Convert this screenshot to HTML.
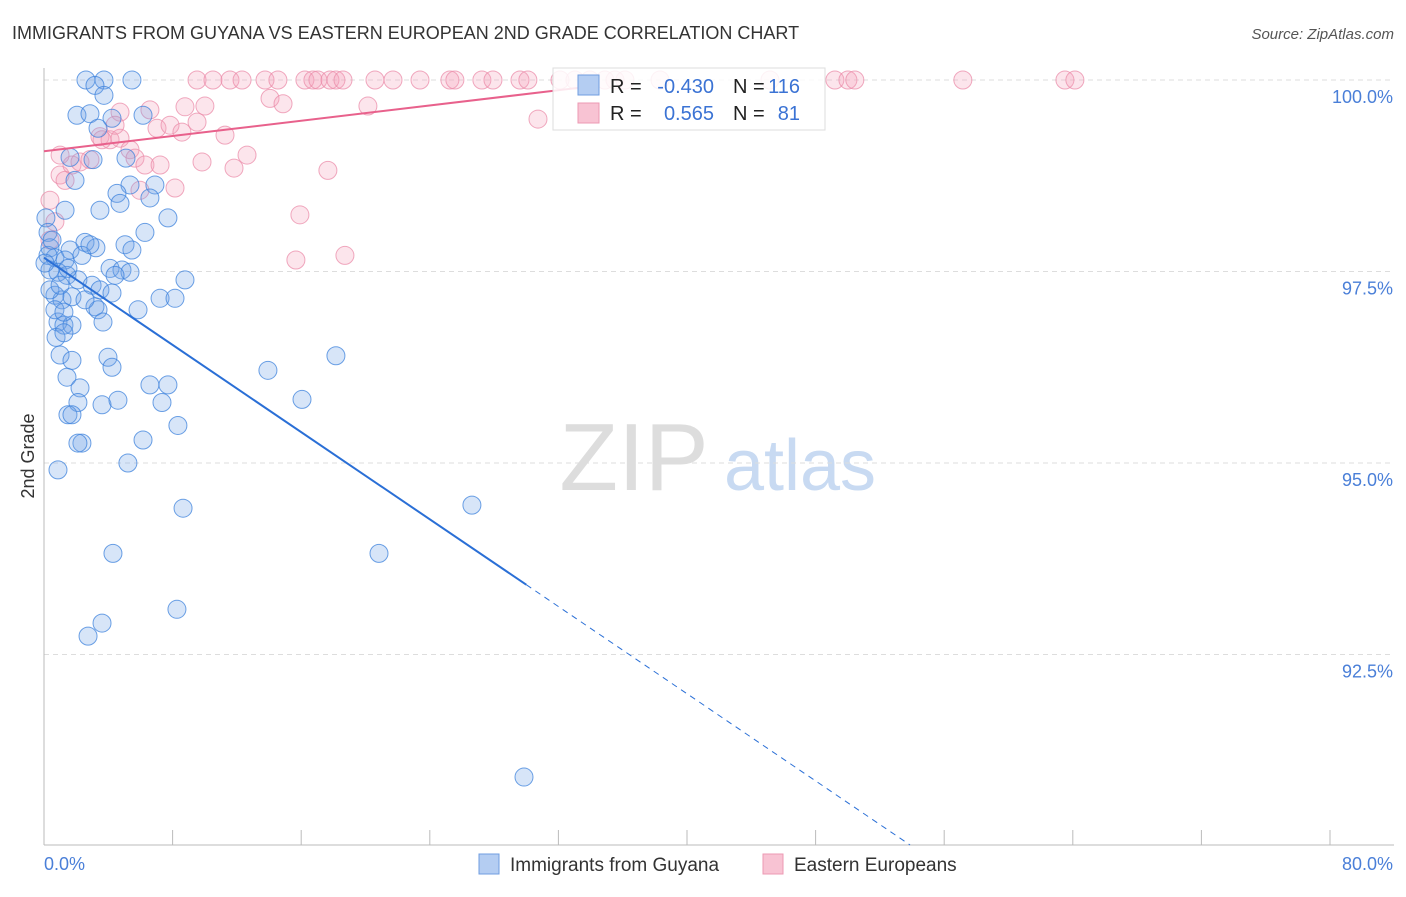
<!DOCTYPE html>
<html><head><meta charset="utf-8"><style>
body{margin:0;background:#fff;font-family:"Liberation Sans",sans-serif}
svg text{font-family:"Liberation Sans",sans-serif}
</style></head><body>
<svg id="chart" width="1406" height="892" xmlns="http://www.w3.org/2000/svg">
<text x="12" y="39" font-size="18" fill="#333">IMMIGRANTS FROM GUYANA VS EASTERN EUROPEAN 2ND GRADE CORRELATION CHART</text>
<text x="1394" y="39" font-size="15" fill="#555" font-style="italic" text-anchor="end">Source: ZipAtlas.com</text>
<text x="34" y="456" font-size="18" fill="#333" text-anchor="middle" transform="rotate(-90 34 456)">2nd Grade</text>
<g>
<text x="634" y="490" font-size="96" fill="#ddd" text-anchor="middle" font-family="Liberation Serif,serif">ZIP</text>
<text x="800" y="490" font-size="72" fill="#c8daf2" text-anchor="middle">atlas</text>
</g>
<g id="grid"></g><g id="axes"></g><g id="pink"></g><g id="blue"></g><g id="trends"></g>
<g>
<rect x="553" y="68" width="272" height="62" fill="#fff" fill-opacity="0.85" stroke="#ddd"/>
<rect x="578" y="75" width="21" height="20" fill="#b4cdf2" stroke="#6f9de0"/>
<rect x="578" y="103" width="21" height="20" fill="#f8c3d3" stroke="#ec9ab3"/>
<text x="610" y="93" font-size="20" fill="#222">R = </text><text x="714" y="93" font-size="20" fill="#3b73d4" text-anchor="end">-0.430</text>
<text x="733" y="93" font-size="20" fill="#222">N = </text><text x="800" y="93" font-size="20" fill="#3b73d4" text-anchor="end">116</text>
<text x="610" y="120" font-size="20" fill="#222">R = </text><text x="714" y="120" font-size="20" fill="#3b73d4" text-anchor="end">0.565</text>
<text x="733" y="120" font-size="20" fill="#222">N = </text><text x="800" y="120" font-size="20" fill="#3b73d4" text-anchor="end">81</text>
</g>
<g>
<rect x="479" y="854" width="20" height="20" fill="#b4cdf2" stroke="#6f9de0"/>
<text x="510" y="871" font-size="19" fill="#333">Immigrants from Guyana</text>
<rect x="763" y="854" width="20" height="20" fill="#f8c3d3" stroke="#ec9ab3"/>
<text x="794" y="871" font-size="19" fill="#333">Eastern Europeans</text>
</g>
</svg>
<script>
const blueX=[2.61,3.73,5.47,3.17,3.73,2.05,2.86,6.16,4.23,3.36,5.10,1.62,3.05,1.93,5.35,6.90,4.54,6.59,3.48,1.31,4.73,7.71,6.28,0.12,0.25,0.37,2.55,3.23,5.04,5.47,1.62,0.68,1.31,2.36,4.11,4.85,5.35,8.77,0.37,0.87,1.43,2.11,2.99,3.48,4.23,7.22,8.15,0.68,1.12,1.74,3.17,3.36,5.85,0.87,1.24,1.74,3.67,0.75,1.24,3.98,4.23,1.00,1.74,1.43,13.93,18.16,2.24,6.59,7.71,2.11,3.61,4.60,7.34,16.05,1.49,1.74,8.33,2.36,2.11,6.16,0.87,5.22,8.65,26.62,4.29,20.84,8.27,3.61,2.74,29.86,0.37,0.25,0.50,1.00,0.06,0.68,1.24,2.55,2.86,4.42,1.49];
const blueY=[100,100,100,99.93,99.80,99.54,99.56,99.54,99.50,99.37,98.98,98.99,98.96,98.69,98.63,98.63,98.52,98.46,98.30,98.30,98.39,98.20,98.01,98.20,98.01,97.81,97.88,97.81,97.85,97.78,97.78,97.68,97.65,97.71,97.54,97.52,97.49,97.39,97.52,97.49,97.45,97.39,97.32,97.26,97.22,97.15,97.15,97.19,97.13,97.17,97.04,97.00,97.00,96.84,96.80,96.80,96.84,96.64,96.70,96.38,96.25,96.41,96.34,96.12,96.21,96.40,95.98,96.02,96.02,95.79,95.76,95.82,95.79,95.83,95.63,95.63,95.49,95.26,95.26,95.30,94.91,95.00,94.41,94.45,93.82,93.82,93.09,92.91,92.74,90.90,97.26,97.71,97.91,97.32,97.61,97.00,96.97,97.13,97.85,97.45,97.54];
const pinkX=[9.52,10.51,11.57,12.32,13.75,14.55,16.23,16.73,17.04,17.79,18.16,18.60,20.59,21.71,23.39,25.25,25.56,27.24,27.93,29.61,30.10,32.10,33.03,33.96,34.89,35.52,36.14,38.32,45.16,49.20,50.01,50.44,57.16,63.51,64.13,4.73,6.59,8.77,10.01,14.06,14.87,20.15,30.73,3.48,4.11,4.73,7.03,7.84,9.52,11.26,1.00,1.74,2.24,2.86,5.35,5.66,6.28,7.22,8.15,9.83,11.82,12.63,0.37,0.68,0.37,15.92,17.66,15.67,18.72,3.61,4.42,8.58,5.97,1.00,1.31];
const pinkY=[100,100,100,100,100,100,100,100,100,100,100,100,100,100,100,100,100,100,100,100,100,100,100,100,100,100,100,100,100,100,100,100,100,100,100,99.58,99.61,99.65,99.66,99.76,99.69,99.66,99.49,99.26,99.22,99.24,99.37,99.41,99.45,99.28,98.76,98.89,98.93,98.96,99.09,98.98,98.89,98.89,98.59,98.93,98.85,99.02,98.43,98.15,97.91,98.24,98.82,97.65,97.71,99.22,99.41,99.32,98.56,99.02,98.69];
const blueTrend=[97.68,-0.1423]; // intercept, slope
const pinkTrend=[99.07,0.0249];
const yTicks=[100,97.5,95,92.5];
const xTickLabels=["0.0%","80.0%"];
const NS="http://www.w3.org/2000/svg";
const X0=44,X1=1330,Y100=80,PX=191.5/2.5;
const sx=v=>X0+(v/80)*(X1-X0);
const sy=v=>Y100+(100-v)*PX;
function mk(tag,attrs,parent){const e=document.createElementNS(NS,tag);for(const k in attrs)e.setAttribute(k,attrs[k]);document.getElementById(parent).appendChild(e);return e;}
yTicks.forEach(t=>{
 const l=mk('line',{x1:X0,x2:1394,y1:sy(t),y2:sy(t),stroke:'#ddd','stroke-dasharray':'5,4'},'grid');
 
 
 const tx=mk('text',{x:1393,y:sy(t)+23,'font-size':18,fill:'#4a7fd8','text-anchor':'end'},'grid');
 
 
 tx.textContent=t.toFixed(1)+'%';
});
const ax=mk('line',{x1:X0,x2:X0,y1:68,y2:845,stroke:'#bbb'},'axes');


const bx=mk('line',{x1:X0,x2:1394,y1:845,y2:845,stroke:'#bbb'},'axes');


for(let i=0;i<=10;i++){const t=mk('line',{x1:sx(i*8),x2:sx(i*8),y1:830,y2:845,stroke:'#bbb'},'axes');
 
 }
const l0=mk('text',{x:44,y:870,'font-size':18,fill:'#4a7fd8'},'axes');l0.textContent=xTickLabels[0];


const l1=mk('text',{x:1393,y:870,'font-size':18,fill:'#4a7fd8','text-anchor':'end'},'axes');l1.textContent=xTickLabels[1];


pinkX.forEach((v,i)=>{const c=mk('circle',{cx:sx(v),cy:sy(pinkY[i]),r:9,fill:'rgba(244,160,188,0.28)',stroke:'rgba(235,140,170,0.75)','stroke-width':1},'pink');
 
 });
blueX.forEach((v,i)=>{const c=mk('circle',{cx:sx(v),cy:sy(blueY[i]),r:9,fill:'rgba(110,160,230,0.28)',stroke:'rgba(60,130,220,0.75)','stroke-width':1},'blue');
 
 });
const bt=v=>blueTrend[0]+blueTrend[1]*v, pt=v=>pinkTrend[0]+pinkTrend[1]*v;
const b1=mk('line',{x1:sx(0),y1:sy(bt(0)),x2:sx(30),y2:sy(bt(30)),stroke:'#2a6fd6','stroke-width':2},'trends');


const xEnd=(100-(845-Y100)/PX-blueTrend[0])/blueTrend[1];
const b2=mk('line',{x1:sx(30),y1:sy(bt(30)),x2:sx(xEnd),y2:sy(bt(xEnd)),stroke:'#2a6fd6','stroke-width':1,'stroke-dasharray':'6,5'},'trends');


const p1=mk('line',{x1:sx(0),y1:sy(pt(0)),x2:sx(34.5),y2:sy(pt(34.5)),stroke:'#e8618c','stroke-width':2},'trends');


</script>
</body></html>
